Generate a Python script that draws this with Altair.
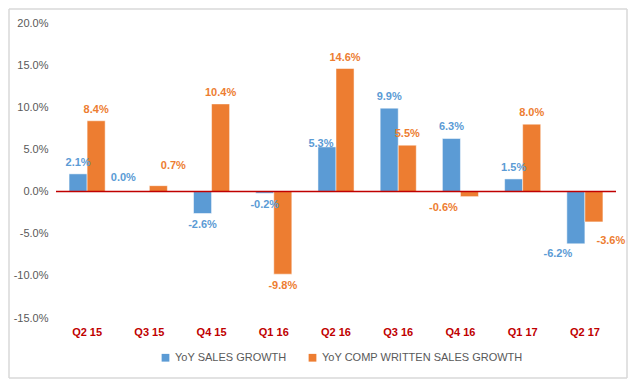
import altair as alt
import pandas as pd

quarters = ["Q2 15", "Q3 15", "Q4 15", "Q1 16", "Q2 16", "Q3 16", "Q4 16", "Q1 17", "Q2 17"]
sales_growth = [2.1, 0.0, -2.6, -0.2, 5.3, 9.9, 6.3, 1.5, -6.2]
comp_growth = [8.4, 0.7, 10.4, -9.8, 14.6, 5.5, -0.6, 8.0, -3.6]
series_names = ["YoY SALES GROWTH", "YoY COMP WRITTEN SALES GROWTH"]
colors = ["#5B9BD5", "#ED7D31"]
label_colors = ["#4A89C8", "#E07A33"]

rows = []
for q, s, c in zip(quarters, sales_growth, comp_growth):
    rows.append({"q": q, "series": series_names[0], "v": s / 100, "key": q + "|S"})
    rows.append({"q": q, "series": series_names[1], "v": c / 100, "key": q + "|C"})
df = pd.DataFrame(rows)

FONT = "Liberation Sans"
MINUS_FIX = "replace(datum.label, '\u2212', '-')"

x_axis = alt.Axis(orient="bottom", labelAngle=0, labelColor="#C00000",
                  labelFontWeight="bold", labelFont=FONT, labelFontSize=11,
                  domain=False, ticks=False, grid=False, labelPadding=8)
y_axis = alt.Axis(format=".1%", values=[-0.15, -0.10, -0.05, 0, 0.05, 0.10, 0.15, 0.20],
                  labelExpr=MINUS_FIX,
                  grid=False, domain=False, ticks=False, labelColor="#595959",
                  labelFont=FONT, labelFontSize=11, labelPadding=8)
x_enc = alt.X("q:N", sort=quarters, title=None,
              scale=alt.Scale(paddingInner=0.42, paddingOuter=0.21), axis=x_axis)
y_enc = alt.Y("v:Q", title=None,
              scale=alt.Scale(domain=[-0.15, 0.20], nice=False, zero=True), axis=y_axis)
xoff = alt.XOffset("series:N", sort=series_names, scale=alt.Scale(paddingInner=0, paddingOuter=0))
color_enc = alt.Color("series:N", sort=series_names,
                      scale=alt.Scale(domain=series_names, range=colors),
                      legend=alt.Legend(title=None, orient="none", direction="horizontal",
                                        legendX=104, legendY=329, symbolType="square",
                                        symbolSize=60, symbolStrokeWidth=0,
                                        labelFont=FONT, labelFontSize=11, labelColor="#595959",
                                        columnPadding=20, labelLimit=300))
text_color = alt.Color("series:N", scale=alt.Scale(domain=series_names, range=label_colors), legend=None)

base = alt.Chart(df).transform_calculate(
    lab="replace(format(datum.v, '.1%'), '\u2212', '-')")

one = alt.Chart(pd.DataFrame({"d": [0]}))
B_STYLE = dict(color="#D9D9D9", strokeWidth=1.5)
border_top = one.mark_rule(**B_STYLE).encode(x=alt.value(-47), x2=alt.value(571), y=alt.value(-14))
border_bot = one.mark_rule(**B_STYLE).encode(x=alt.value(-47), x2=alt.value(571), y=alt.value(355))
border_left = one.mark_rule(**B_STYLE).encode(x=alt.value(-47), y=alt.value(-14), y2=alt.value(355))
border_right = one.mark_rule(**B_STYLE).encode(x=alt.value(571), y=alt.value(-14), y2=alt.value(355))

bars = base.mark_bar(stroke="white", strokeWidth=0.5).encode(x=x_enc, y=y_enc, xOffset=xoff, color=color_enc)

zero = alt.Chart(pd.DataFrame({"v": [0.0]})).mark_rule(color="#C00000", strokeWidth=1.5).encode(
    y=y_enc)

special = {
    "Q3 15|S": (-17, -14),
    "Q3 15|C": (15, -20),
    "Q2 16|S": (-6, -3),
    "Q4 16|C": (-26, 11),
    "Q2 17|S": (-18, 10),
    "Q2 17|C": (17, 19),
}

def lbl(filter_expr, dx, dy):
    return base.transform_filter(filter_expr).mark_text(
        font=FONT, fontSize=11, fontWeight="bold", dx=dx, dy=dy).encode(
        x=x_enc, y=y_enc, xOffset=xoff,
        color=text_color, text=alt.Text("lab:N"))

special_keys = list(special.keys())
not_special = " && ".join([f"datum.key != '{k}'" for k in special_keys])

layers = [bars, zero, border_top, border_bot, border_left, border_right,
          lbl(f"datum.v >= 0 && {not_special}", 0, -11),
          lbl(f"datum.v < 0 && {not_special}", 0, 12)]
for k, (dx, dy) in special.items():
    layers.append(lbl(f"datum.key == '{k}'", dx, dy))

chart = alt.layer(*layers).properties(
    width=560, height=295,
    background="white",
    autosize=alt.AutoSizeParams(type="none"),
    padding={"left": 48, "top": 15, "right": 16, "bottom": 63},
).configure_view(stroke="transparent", strokeWidth=0).configure_axis(
    domain=False, ticks=False, grid=False
)

chart.save("out.html", embed_options={"renderer": "svg", "actions": False})
